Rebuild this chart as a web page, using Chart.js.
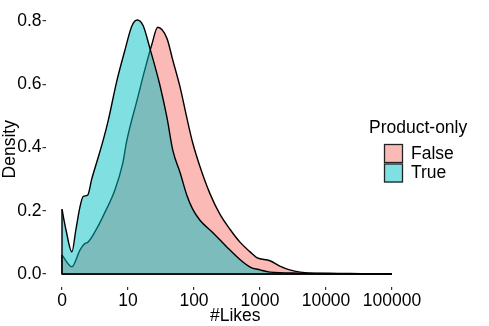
<!DOCTYPE html>
<html>
<head>
<meta charset="utf-8">
<script src="https://cdn.jsdelivr.net/npm/chart.js@4/dist/chart.umd.min.js"></script>
<style>
  html, body { margin: 0; padding: 0; background: #fff; }
  #wrap { width: 489px; height: 326px; }
</style>
</head>
<body>
<div id="wrap"><canvas id="densityChart" width="489" height="326"></canvas></div>
<script>
// x is log10 of #Likes, labelled 0, 10, 100 ...
const tickPos = [0, 1, 2, 3, 4, 5];
const tickLabels = ["0", "10", "100", "1000", "10000", "100000"];
const yTicks = [0, 0.2, 0.4, 0.6, 0.8];

const seriesNames = ["False", "True"];

const falseX = [0, 0.15, 0.27, 0.35, 0.39, 0.53, 0.65, 0.80, 0.92, 0.98, 1.15, 1.26, 1.36, 1.45,
  1.59, 1.68, 1.79, 1.89, 1.98, 2.09, 2.24, 2.39, 2.55, 2.70, 2.85, 2.95, 3.15, 3.30, 3.45,
  3.61, 3.83, 4.06, 4.36, 4.67, 5.0];
const falseY = [0.06, 0.023, 0.075, 0.097, 0.10, 0.145, 0.195, 0.265, 0.35, 0.42, 0.56, 0.65, 0.725, 0.78,
  0.745, 0.675, 0.59, 0.495, 0.415, 0.34, 0.255, 0.19, 0.14, 0.10, 0.07, 0.052, 0.042, 0.025, 0.013,
  0.006, 0.003, 0.003, 0.0015, 0.001, 0];

const trueX = [0, 0.06, 0.15, 0.21, 0.27, 0.32, 0.39, 0.45, 0.55, 0.62, 0.70, 0.83, 0.95, 1.06, 1.14,
  1.23, 1.33, 1.48, 1.59, 1.68, 1.79, 1.89, 1.98, 2.09, 2.29, 2.50, 2.70, 2.85, 3.00, 3.15,
  3.60, 4.05, 4.50, 5.0];
const trueY = [0.205, 0.14, 0.07, 0.14, 0.21, 0.245, 0.25, 0.30, 0.37, 0.42, 0.485, 0.61, 0.705, 0.785, 0.803,
  0.785, 0.715, 0.60, 0.495, 0.39, 0.32, 0.25, 0.205, 0.17, 0.13, 0.085, 0.045, 0.022, 0.013, 0.006,
  0.003, 0.001, 0.0005, 0];

const FONT = "Liberation Sans, Arial, sans-serif";
const fillFalse = "rgba(248,118,109,0.5)";
const fillTrue = "rgba(0,191,196,0.5)";

function pts(xs, ys) {
  return xs.map((x, i) => ({ x, y: ys[i] }));
}

// close each density outline down to the baseline, like geom_density
const closeOutline = {
  id: "closeOutline",
  afterDatasetDraw(chart, args) {
    const pts = args.meta.data;
    if (!pts.length) return;
    const y0 = chart.scales.y.getPixelForValue(0);
    const ctx = chart.ctx;
    ctx.save();
    ctx.strokeStyle = "#000";
    ctx.lineWidth = 1.4;
    ctx.lineJoin = "round";
    ctx.beginPath();
    ctx.moveTo(pts[0].x, pts[0].y);
    ctx.lineTo(pts[0].x, y0);
    ctx.lineTo(pts[pts.length - 1].x, y0);
    ctx.stroke();
    ctx.restore();
  }
};

const ggLegend = {
  id: "ggLegend",
  afterDraw(chart) {
    const ctx = chart.ctx;
    ctx.save();
    ctx.font = "17.5px " + FONT;
    ctx.fillStyle = "#000";
    ctx.textBaseline = "middle";
    ctx.textAlign = "left";
    ctx.fillText("Product-only", 369, 128);
    const fills = [fillFalse, fillTrue];
    seriesNames.forEach((name, i) => {
      const top = 144 + i * 19.5;
      ctx.fillStyle = "#fff";
      ctx.fillRect(384, top, 19, 19);
      ctx.fillStyle = fills[i];
      ctx.fillRect(384, top, 19, 19);
      ctx.strokeStyle = "#222";
      ctx.lineWidth = 1.3;
      ctx.strokeRect(384.5, top + 0.5, 18, 18);
      ctx.fillStyle = "#000";
      ctx.fillText(name, 411, top + 10);
    });
    ctx.restore();
  }
};

new Chart(document.getElementById("densityChart"), {
  type: "line",
  data: {
    datasets: [
      {
        label: seriesNames[0],
        data: pts(falseX, falseY),
        backgroundColor: fillFalse,
        borderColor: "#000",
        borderWidth: 1.4,
        fill: "origin",
        pointRadius: 0,
        cubicInterpolationMode: "monotone",
        order: 2
      },
      {
        label: seriesNames[1],
        data: pts(trueX, trueY),
        backgroundColor: fillTrue,
        borderColor: "#000",
        borderWidth: 1.4,
        fill: "origin",
        pointRadius: 0,
        cubicInterpolationMode: "monotone",
        order: 1
      }
    ]
  },
  options: {
    responsive: false,
    animation: false,
    layout: { padding: { top: 0, right: 64, bottom: 0, left: 0 } },
    plugins: {
      legend: { display: false },
      tooltip: { enabled: false }
    },
    scales: {
      x: {
        type: "linear",
        min: -0.25,
        max: 5.5,
        afterBuildTicks: (s) => { s.ticks = tickPos.map(v => ({ value: v })); },
        afterFit: (s) => { s.height = 39; },
        border: { display: false },
        grid: { drawOnChartArea: false, drawTicks: true, tickLength: 3, color: "#333", lineWidth: 1.2 },
        ticks: {
          padding: 1,
          color: "#000",
          maxRotation: 0,
          font: { family: FONT, size: 17.5 },
          callback: (v) => tickLabels[tickPos.indexOf(v)]
        },
        title: {
          display: true,
          text: "#Likes",
          color: "#000",
          font: { family: FONT, size: 17.5 },
          padding: { top: 0, bottom: -1 }
        }
      },
      y: {
        min: -0.041,
        max: 0.83,
        afterBuildTicks: (s) => { s.ticks = yTicks.map(v => ({ value: v })); },
        afterFit: (s) => { s.width = 45.5; },
        border: { display: false },
        grid: { drawOnChartArea: false, drawTicks: true, tickLength: 3, color: "#333", lineWidth: 1.2 },
        ticks: {
          padding: 1,
          color: "#000",
          font: { family: FONT, size: 17.5 },
          callback: (v) => v.toFixed(1)
        },
        title: {
          display: true,
          text: "Density",
          color: "#000",
          font: { family: FONT, size: 17.5 },
          padding: { top: 0, bottom: 0 }
        }
      }
    }
  },
  plugins: [closeOutline, ggLegend]
});
</script>
</body>
</html>
